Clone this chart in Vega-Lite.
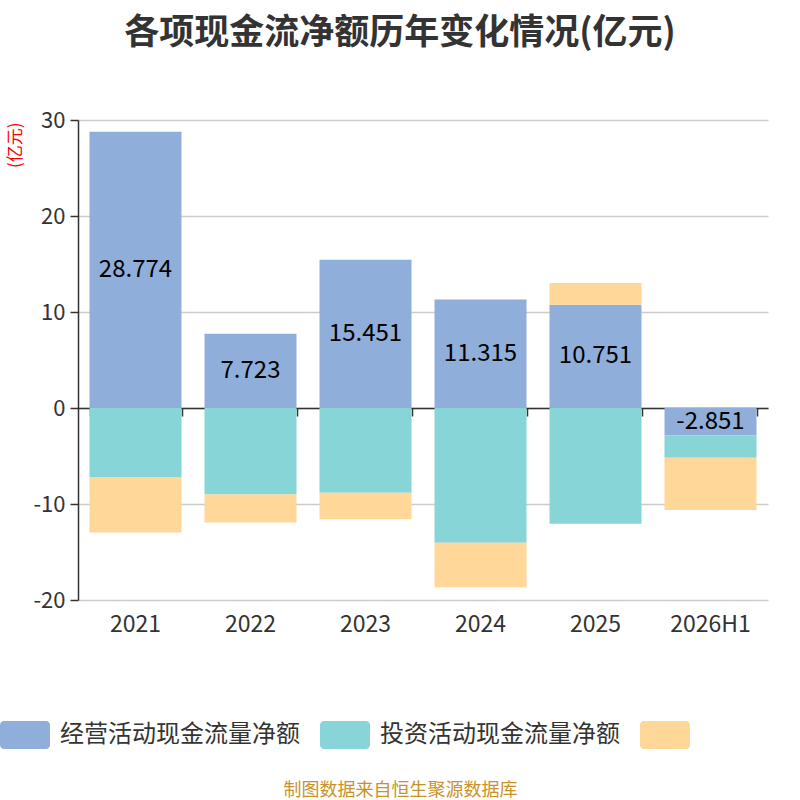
{
  "$schema": "https://vega.github.io/schema/vega-lite/v6.json",
  "width": 690,
  "height": 480,
  "autosize": {"type": "none"},
  "padding": {"left": 78, "top": 120, "right": 32, "bottom": 200},
  "background": "#ffffff",
  "config": {
    "view": {"stroke": null},
    "font": "Noto Sans CJK SC"
  },
  "title": {
    "text": "各项现金流净额历年变化情况(亿元)",
    "fontSize": 35,
    "fontWeight": "bold",
    "color": "#333333",
    "anchor": "middle",
    "frame": "group",
    "dx": -23,
    "offset": 58
  },
  "data": {
    "values": [
      {"year": "2021", "type": "经营活动现金流量净额", "value": 28.774},
      {"year": "2021", "type": "投资活动现金流量净额", "value": -7.19},
      {"year": "2021", "type": "筹资活动现金流量净额", "value": -5.77},
      {"year": "2022", "type": "经营活动现金流量净额", "value": 7.723},
      {"year": "2022", "type": "投资活动现金流量净额", "value": -9.0},
      {"year": "2022", "type": "筹资活动现金流量净额", "value": -2.92},
      {"year": "2023", "type": "经营活动现金流量净额", "value": 15.451},
      {"year": "2023", "type": "投资活动现金流量净额", "value": -8.82},
      {"year": "2023", "type": "筹资活动现金流量净额", "value": -2.78},
      {"year": "2024", "type": "经营活动现金流量净额", "value": 11.315},
      {"year": "2024", "type": "投资活动现金流量净额", "value": -14.03},
      {"year": "2024", "type": "筹资活动现金流量净额", "value": -4.65},
      {"year": "2025", "type": "经营活动现金流量净额", "value": 10.751},
      {"year": "2025", "type": "投资活动现金流量净额", "value": -12.05},
      {"year": "2025", "type": "筹资活动现金流量净额", "value": 2.27},
      {"year": "2026H1", "type": "经营活动现金流量净额", "value": -2.851},
      {"year": "2026H1", "type": "投资活动现金流量净额", "value": -2.33},
      {"year": "2026H1", "type": "筹资活动现金流量净额", "value": -5.45}
    ]
  },
  "resolve": {"axis": {"x": "independent"}},
  "layer": [
    {
      "transform": [
        {"calculate": "indexof(['经营活动现金流量净额','投资活动现金流量净额','筹资活动现金流量净额'], datum.type)", "as": "ord"}
      ],
      "mark": {"type": "bar"},
      "encoding": {
        "x": {
          "field": "year",
          "type": "nominal",
          "sort": null,
          "scale": {"paddingInner": 0.2, "paddingOuter": 0.1},
          "axis": {
            "orient": "bottom",
            "title": "制图数据来自恒生聚源数据库",
            "titleColor": "#C8922A",
            "titleFontSize": 18,
            "titleFontWeight": "normal",
            "titleAnchor": "middle",
            "titleX": 322,
            "titleY": 190,
            "titleBaseline": "middle",
            "domain": false,
            "ticks": false,
            "labelFontSize": 23,
            "labelColor": "#333333",
            "labelPadding": 13,
            "labelAngle": 0
          }
        },
        "y": {
          "field": "value",
          "type": "quantitative",
          "stack": "zero",
          "scale": {"domain": [-20, 30], "nice": false},
          "axis": {
            "values": [-20, -10, 0, 10, 20, 30],
            "labelExpr": "replace(datum.label, '−', '-')",
            "title": "(亿元)",
            "titleColor": "#ff0000",
            "titleFontSize": 17,
            "titleFontWeight": "normal",
            "titleAngle": 270,
            "titleAnchor": "end",
            "titleAlign": "right",
            "titleBaseline": "middle",
            "titleX": -63,
            "titleY": 2,
            "labelFontSize": 22,
            "labelColor": "#333333",
            "labelPadding": 5,
            "domainColor": "#333333",
            "domainWidth": 1.5,
            "tickColor": "#333333",
            "tickSize": 8,
            "tickWidth": 1.5,
            "gridColor": "#cccccc",
            "gridWidth": 1.5
          }
        },
        "color": {
          "field": "type",
          "type": "nominal",
          "scale": {
            "domain": ["经营活动现金流量净额", "投资活动现金流量净额", "筹资活动现金流量净额"],
            "range": ["#8FAEDA", "#88D5D8", "#FFD899"]
          },
          "legend": {
            "title": null,
            "orient": "none",
            "direction": "horizontal",
            "legendX": -78,
            "legendY": 590,
            "symbolType": "M-0.84,-0.56H0.84A0.16,0.16 0 0 1 1,-0.4V0.4A0.16,0.16 0 0 1 0.84,0.56H-0.84A0.16,0.16 0 0 1 -1,0.4V-0.4A0.16,0.16 0 0 1 -0.84,-0.56Z",
            "symbolSize": 2500,
            "symbolOpacity": 1,
            "symbolStrokeWidth": 0,
            "labelFontSize": 24,
            "labelColor": "#333333",
            "labelOffset": 10,
            "columnPadding": 20,
            "labelLimit": 300,
            "labelExpr": "datum.label == '筹资活动现金流量净额' ? '' : datum.label"
          }
        },
        "order": {"field": "ord", "type": "quantitative"}
      }
    },
    {
      "mark": {"type": "rule", "opacity": 0},
      "encoding": {
        "x": {
          "field": "year",
          "type": "nominal",
          "sort": null,
          "axis": {
            "orient": "bottom",
            "title": null,
            "labels": false,
            "grid": false,
            "offset": -192,
            "domainColor": "#333333",
            "domainWidth": 1.5,
            "ticks": true,
            "tickBand": "extent",
            "tickColor": "#333333",
            "tickWidth": 1.5,
            "tickSize": 8
          }
        }
      }
    },
    {
      "transform": [
        {"filter": "datum.type == '经营活动现金流量净额'"},
        {"calculate": "datum.value / 2", "as": "mid"},
        {"calculate": "replace(format(datum.value, '.3f'), '−', '-')", "as": "label"}
      ],
      "mark": {"type": "text", "fontSize": 24, "color": "#000000", "baseline": "middle"},
      "encoding": {
        "x": {"field": "year", "type": "nominal", "sort": null, "axis": null},
        "y": {"field": "mid", "type": "quantitative"},
        "text": {"field": "label", "type": "nominal"}
      }
    }
  ]
}
